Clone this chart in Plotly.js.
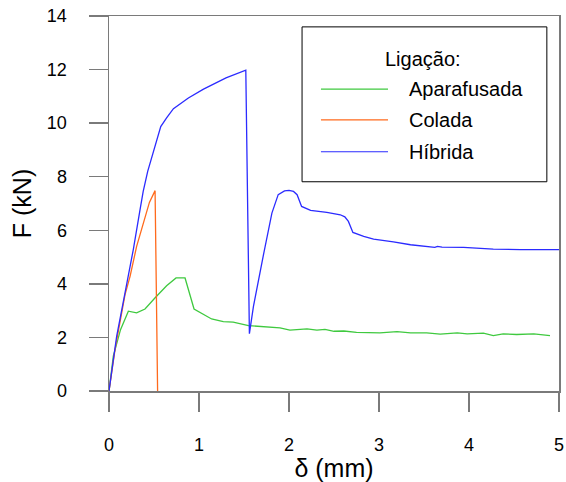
<!DOCTYPE html>
<html>
<head>
<meta charset="utf-8">
<script src="https://cdn.plot.ly/plotly-3.0.1.min.js"></script>
<style>
  html, body { margin: 0; padding: 0; background: #fff; }
  #chart { width: 566px; height: 482px; }
</style>
</head>
<body>
<div id="chart"></div>
<script>
// Force–displacement curves for three joint types
const seriesNames = ["Aparafusada", "Colada", "Híbrida"];
const legendTitle = "Ligação:";

const boltedX = [0, 0.048, 0.128, 0.215, 0.307, 0.40, 0.51, 0.64, 0.745, 0.845, 0.945, 1.14, 1.27, 1.38, 1.55, 1.79, 1.90, 2.01, 2.2, 2.31, 2.40, 2.50, 2.61, 2.75, 3.01, 3.20, 3.35, 3.53, 3.68, 3.87, 3.98, 4.16, 4.27, 4.38, 4.53, 4.72, 4.90];
const boltedF = [0, 1.30, 2.29, 2.98, 2.92, 3.06, 3.47, 3.93, 4.22, 4.22, 3.06, 2.69, 2.59, 2.57, 2.44, 2.38, 2.36, 2.27, 2.32, 2.27, 2.30, 2.23, 2.24, 2.19, 2.17, 2.22, 2.17, 2.17, 2.12, 2.17, 2.13, 2.16, 2.07, 2.13, 2.11, 2.13, 2.07];

const bondedX = [0, 0.067, 0.178, 0.234, 0.307, 0.382, 0.449, 0.512, 0.54];
const bondedF = [0, 1.55, 3.6, 4.28, 5.40, 6.27, 7.04, 7.48, 0];

const hybridX = [0, 0.085, 0.178, 0.27, 0.345, 0.38, 0.43, 0.49, 0.54, 0.575, 0.64, 0.716, 0.882, 1.05, 1.30, 1.52, 1.56, 1.605, 1.72, 1.81, 1.88, 1.95, 2.0, 2.05, 2.09, 2.14, 2.24, 2.42, 2.57, 2.62, 2.66, 2.71, 2.83, 2.94, 3.16, 3.35, 3.62, 3.65, 3.70, 3.94, 4.27, 4.57, 5.0];
const hybridF = [0, 2.04, 3.66, 5.28, 6.77, 7.45, 8.2, 8.88, 9.5, 9.87, 10.2, 10.54, 10.94, 11.27, 11.69, 11.98, 2.14, 3.16, 5.15, 6.64, 7.33, 7.47, 7.49, 7.45, 7.33, 6.89, 6.74, 6.67, 6.58, 6.5, 6.33, 5.92, 5.77, 5.67, 5.57, 5.46, 5.36, 5.40, 5.37, 5.36, 5.30, 5.28, 5.28];

const xTicks = [0, 1, 2, 3, 4, 5];
const yTicks = [0, 2, 4, 6, 8, 10, 12, 14];

const colors = ["#3fc93f", "#ff6a1c", "#2b2bff"];
const FONT = "Liberation Sans, Arial, sans-serif";
const AXIS_GREY = "#7a7a7a";

const xs = [boltedX, bondedX, hybridX];
const ys = [boltedF, bondedF, hybridF];

const traces = seriesNames.map((name, i) => ({
  x: xs[i], y: ys[i], name: name, type: "scatter", mode: "lines",
  line: { color: colors[i], width: 1.3 }, showlegend: false
}));

// Boxed legend drawn in paper space
const box = { x0: 0.429, x1: 0.973, y0: 0.558, y1: 0.971 };
const rowY = [0.805, 0.723, 0.638];
const shapes = [{
  type: "rect", xref: "paper", yref: "paper",
  x0: box.x0, x1: box.x1, y0: box.y0, y1: box.y1,
  line: { color: "#000", width: 1 }, fillcolor: "#fff"
}];
const annotations = [{
  xref: "paper", yref: "paper", x: 0.698, y: 0.885, text: legendTitle,
  showarrow: false, xanchor: "center", yanchor: "middle",
  font: { family: FONT, size: 20, color: "#000" }
}];
seriesNames.forEach((name, i) => {
  shapes.push({
    type: "line", xref: "paper", yref: "paper",
    x0: 0.471, x1: 0.62, y0: rowY[i], y1: rowY[i],
    line: { color: colors[i], width: 1.2 }
  });
  annotations.push({
    xref: "paper", yref: "paper", x: 0.662, y: rowY[i], text: name,
    showarrow: false, xanchor: "left", yanchor: "middle",
    font: { family: FONT, size: 20, color: "#000" }
  });
});

const axisCommon = {
  showgrid: false, zeroline: false, mirror: true,
  showline: true, linecolor: AXIS_GREY, linewidth: 1.5,
  ticks: "outside", ticklen: 19, tickwidth: 1.5, tickcolor: AXIS_GREY,
  tickfont: { family: FONT, size: 18, color: "#000" },
  automargin: false, fixedrange: true
};

const layout = {
  width: 566, height: 482,
  margin: { l: 109, r: 7, t: 16, b: 90.5 },
  paper_bgcolor: "#fff", plot_bgcolor: "#fff",
  showlegend: false,
  xaxis: Object.assign({}, axisCommon, {
    range: [0, 5], tickvals: xTicks, ticktext: xTicks.map(String),
    ticklabelstandoff: 18,
    title: { text: "δ (mm)", font: { family: FONT, size: 25, color: "#000" }, standoff: 6 }
  }),
  yaxis: Object.assign({}, axisCommon, {
    range: [0, 14], tickvals: yTicks, ticktext: yTicks.map(String),
    ticklabelstandoff: 18,
    title: { text: "F (kN)", font: { family: FONT, size: 25, color: "#000" }, standoff: 8 }
  }),
  shapes: shapes,
  annotations: annotations
};

Plotly.newPlot("chart", traces, layout, { displayModeBar: false, staticPlot: true });
</script>
</body>
</html>
